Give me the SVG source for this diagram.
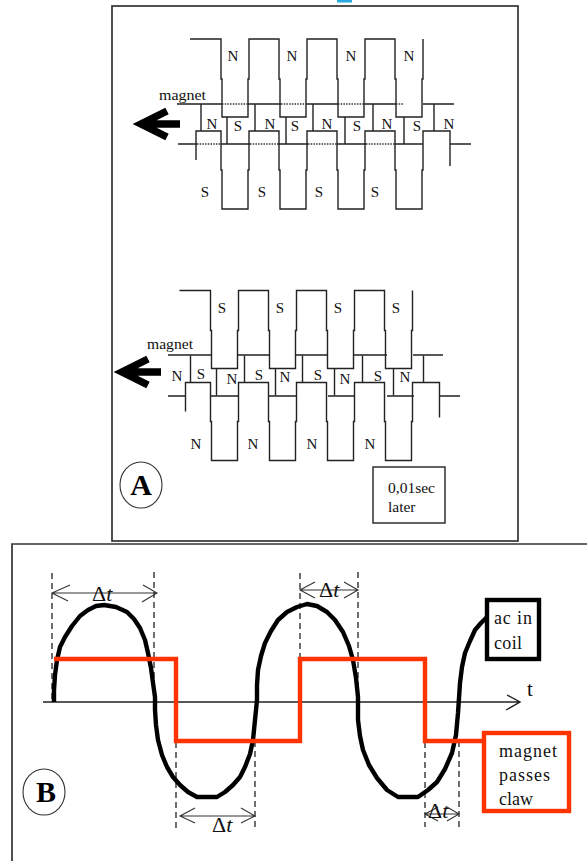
<svg xmlns="http://www.w3.org/2000/svg" width="587" height="861" viewBox="0 0 587 861">
<style>
text{font-family:"Liberation Serif","Times New Roman",serif;fill:#111}
.l{font-size:15px;text-anchor:middle}
.m{font-size:15.5px}
.w{font-size:18px}
.d{font-size:22px}
.t{font-size:21px}
.big{font-size:30px;font-weight:bold;text-anchor:middle;fill:#000}
.s{fill:none;stroke:#222;stroke-width:1.4}
.dot{fill:none;stroke:#333;stroke-width:1.4;stroke-dasharray:1.5 1.2}
.frame{fill:none;stroke:#333;stroke-width:1.7}
.dash{fill:none;stroke:#222;stroke-width:1.3;stroke-dasharray:6 4}
.arr{fill:none;stroke:#333;stroke-width:1.1}
.fat{fill:none;stroke:#000;stroke-width:7.5;stroke-linejoin:miter}
.sine{fill:none;stroke:#000;stroke-width:4.4;stroke-linejoin:round}
.red{fill:none;stroke:#ff3300;stroke-width:4.4;stroke-linejoin:miter}
.blk{fill:#fff;stroke:#000;stroke-width:4.4}
.rb{fill:#fff;stroke:#ff3300;stroke-width:4.4}
.c{fill:none;stroke:#333;stroke-width:1.1}
</style>
<defs>
<path id="upper" d="M190 39H221V79H222V117H248V79H249V39H279V79H280V117H306V79H307V39H337V79H338V117H364V79H365V39H395V79H396V117H422V79H423V39"/>
<path id="lower" d="M196 160V131H221V170H222V209H248V170H249V131H279V170H280V209H306V170H307V131H337V170H338V209H364V170H365V131H395V170H396V209H422V170H423V131H450V166"/>
<path id="dividers" d="M201 104V131M255 104V131M313 104V131M373 104V131M434 104V131M227 117V144M286 117V144M345 117V144M404 117V144"/>
</defs>
<rect x="337" y="0" width="15" height="2.5" fill="#29abe2"/>
<g id="panel-a-frame"><rect class="frame" x="112" y="6" width="406" height="535"/></g>
<g id="panel-b-frame"><path class="frame" d="M12 861V544H587"/></g>
<g id="magnet-top">
<g class="s"><use href="#upper"/><use href="#lower"/><use href="#dividers"/>
<path d="M177 104H222M248 104H281M307 104H338M364 104H396M423 104H454M178 144H197M221 144H250M278 144H308M337 144H366M395 144H423M450 144H471"/></g>
<path class="dot" d="M222 104H248M281 104H307M338 104H364M396 104H404M197 144H221M250 144H278M308 144H337M366 144H395"/>
<text class="m" x="159" y="100" textLength="47" lengthAdjust="spacingAndGlyphs">magnet</text>
<text class="l" x="233" y="61">N</text><text class="l" x="292" y="61">N</text><text class="l" x="351" y="61">N</text><text class="l" x="409" y="61">N</text>
<text class="l" x="205" y="197">S</text><text class="l" x="262" y="197">S</text><text class="l" x="319" y="197">S</text><text class="l" x="375" y="197">S</text>
<text class="l" x="212" y="129">N</text><text class="l" x="238" y="131">S</text><text class="l" x="270" y="129">N</text><text class="l" x="295" y="131">S</text><text class="l" x="327" y="129">N</text><text class="l" x="357" y="131">S</text><text class="l" x="387" y="129">N</text><text class="l" x="417" y="131">S</text><text class="l" x="449" y="129">N</text>
<path class="fat" d="M180 124H145M167 111L141 124L167 137"/>
</g>
<g id="magnet-bottom">
<g class="s"><g transform="translate(-10.5 251.5)"><use href="#upper"/><use href="#lower"/><use href="#dividers"/></g>
<path d="M168 355H212M238 355H270M296 355H328M354 355H387M413 355H443M168 396H185M210 396H239M269 396H297M328 396H355M387 396H414M440 396H460"/></g>
<text class="m" x="147" y="349" textLength="46" lengthAdjust="spacingAndGlyphs">magnet</text>
<text class="l" x="222" y="313">S</text><text class="l" x="280" y="313">S</text><text class="l" x="338" y="313">S</text><text class="l" x="396" y="313">S</text>
<text class="l" x="196" y="449">N</text><text class="l" x="253" y="449">N</text><text class="l" x="312" y="449">N</text><text class="l" x="370" y="449">N</text>
<text class="l" x="177" y="381">N</text><text class="l" x="201" y="379">S</text><text class="l" x="232" y="384">N</text><text class="l" x="259" y="380">S</text><text class="l" x="285" y="382">N</text><text class="l" x="318" y="380">S</text><text class="l" x="345" y="384">N</text><text class="l" x="378" y="381">S</text><text class="l" x="405" y="382">N</text>
<path class="fat" d="M161 372H126M148 359L122 372L148 385"/>
</g>
<g id="label-a"><ellipse class="c" cx="141" cy="485" rx="21" ry="23"/><text class="big" x="141" y="495">A</text></g>
<g id="later-box"><rect class="s" x="373" y="467" width="72" height="56"/>
<text class="m" x="388" y="493" textLength="47" lengthAdjust="spacingAndGlyphs">0,01sec</text><text class="m" x="388" y="512">later</text></g>
<g id="connectors">
<path class="s" d="M43 702H520M507 695L520 702L506 710"/>
<path class="dash" d="M52 573V702M154 572V700M300 573V702M358 572V700M176 702V828M255 741V828M425 702V827M459 741V827"/>
<path class="arr" d="M52 593H157M70 585L52 593L68 601M143 585L157 593L142 602"/>
<path class="arr" d="M180 816H255M195 808L180 816L195 823M241 808L255 816L241 823"/>
<path class="arr" d="M300 590H358M315 582L300 590L315 598M344 582L358 590L344 598"/>
<path class="arr" d="M425 814H459M438 807L425 814L438 821M447 807L459 814L447 821"/>
<polyline class="sine" points="54,702 54,690 55,675 57,660 60,647 65,637 72,626 80,616 88,610 96,606 104,605 116,607 127,612 134,619 140,628 145,640 148,653 151,668 153,683 155,697 155,710 156,725 158,740 162,755 167,767 173,777 180,785 188,792 197,797 217,797 225,792 233,785 240,777 245,767 250,754 253,740 255,720 257,700 257,685 258,670 261,656 265,643 271,631 278,620 287,612 297,607 307,604 317,606 327,612 335,620 343,632 349,646 353,660 356,678 358,697 358,720 360,736 363,750 369,765 377,778 387,790 398,797 418,797 428,790 437,782 445,769 452,753 456,735 458,713 459,698 460,683 462,667 465,653 470,641 475,630 481,623 487,617"/>
<polyline class="red" points="54,659 176,659 176,741 300,741 300,659 425,659 425,741 484,741"/>
</g>
<g id="label-b"><ellipse class="c" cx="44" cy="792" rx="21" ry="23"/><text class="big" x="46" y="802">B</text></g>
<g id="delta-labels">
<text class="d" x="92" y="601">Δ<tspan font-style="italic">t</tspan></text>
<text class="d" x="212" y="832">Δ<tspan font-style="italic">t</tspan></text>
<text class="d" x="319" y="597">Δ<tspan font-style="italic">t</tspan></text>
<text class="d" x="428" y="818">Δ<tspan font-style="italic">t</tspan></text>
<text class="t" x="527" y="696">t</text>
</g>
<g id="ac-box"><rect class="blk" x="487" y="600" width="52" height="59"/>
<text class="w" x="494" y="624" textLength="38" lengthAdjust="spacing">ac in</text><text class="w" x="494" y="649" textLength="28" lengthAdjust="spacing">coil</text></g>
<g id="magnet-box"><rect class="rb" x="484" y="733" width="85" height="78"/>
<text class="w" x="499" y="757" textLength="58" lengthAdjust="spacing">magnet</text><text class="w" x="499" y="781" textLength="51" lengthAdjust="spacing">passes</text><text class="w" x="499" y="805" textLength="34" lengthAdjust="spacing">claw</text></g>
</svg>
